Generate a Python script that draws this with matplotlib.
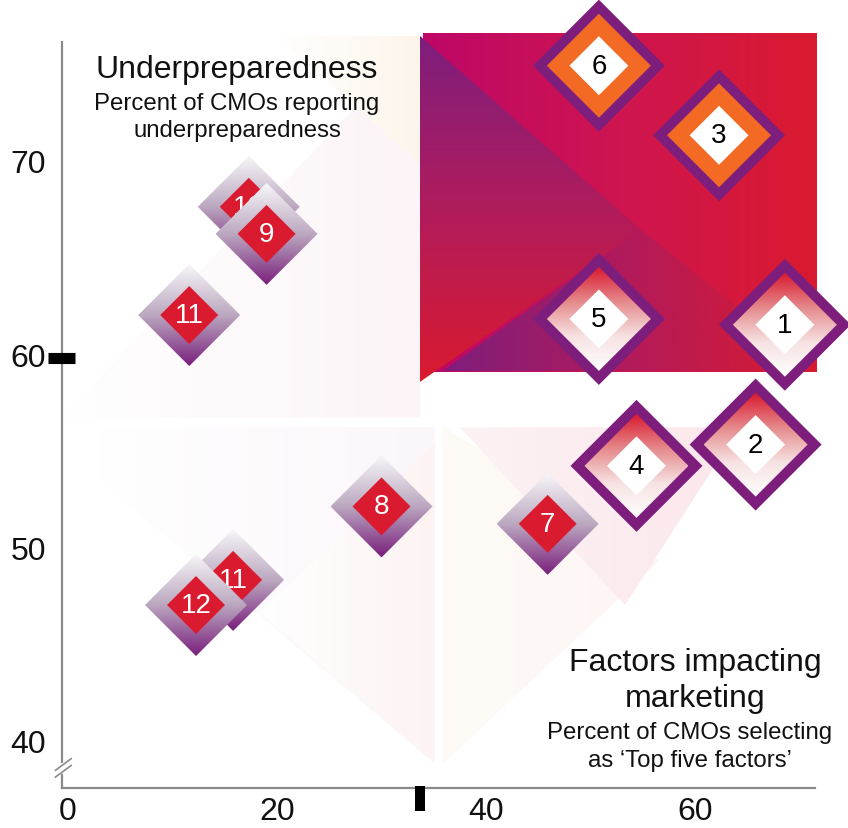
import numpy as np
import matplotlib
matplotlib.use("Agg")
import matplotlib.pyplot as plt
from matplotlib.colors import LinearSegmentedColormap
from matplotlib.patches import Polygon

plt.rcParams["font.family"] = ["Liberation Sans", "DejaVu Sans"]

# Top six factors (framed diamonds) and the rest (small diamonds)
top_labels = ["6", "3", "5", "1", "4", "2"]
top_factors = [50.8, 62.3, 50.8, 68.6, 54.4, 65.8]
top_underprep = [75.1, 71.5, 62.0, 61.7, 54.4, 55.5]
top_orange = [True, True, False, False, False, False]

other_labels = ["10", "9", "11", "8", "7", "11", "12"]
other_factors = [17.3, 19.0, 11.6, 30.0, 45.9, 15.8, 12.25]
other_underprep = [67.8, 66.4, 62.2, 52.3, 51.4, 48.5, 47.2]

avg_factors = 33.7
avg_underprep = 60

x_ticks = [0, 20, 40, 60]
y_ticks = [40, 50, 60, 70]

PURPLE = "#7E1E7C"
ORANGE = "#F26A24"
RED = "#DA1A2F"
MAGENTA = "#BE0767"
AXIS_GREY = "#8A8A8A"

W, H = 848, 829
fig = plt.figure(figsize=(W / 100, H / 100), dpi=100)
ax = fig.add_axes([0, 0, 1, 1])
ax.set_axis_off()
XLIM = (-6.507, 74.64)
YLIM = (35.665, 78.55)
sx = W / (XLIM[1] - XLIM[0])
sy = H / (YLIM[1] - YLIM[0])


def gradient_fill(verts, colors, vertical=True, zorder=1, alpha=1.0):
    poly = Polygon(verts, closed=True, facecolor="none", edgecolor="none")
    ax.add_patch(poly)
    xs, ys = zip(*verts)
    ramp = np.linspace(0, 1, 256)
    if vertical:
        arr = ramp[::-1, None]  # first colour at the top
    else:
        arr = ramp[None, :]  # first colour at the left
    cmap = LinearSegmentedColormap.from_list("g", colors)
    im = ax.imshow(arr, extent=(min(xs), max(xs), min(ys), max(ys)),
                   origin="lower", cmap=cmap, aspect="auto",
                   interpolation="bilinear", zorder=zorder, alpha=alpha)
    im.set_clip_path(poly)


def diamond(x, y, r):
    dx, dy = r / sx, r / sy
    return [(x, y + dy), (x + dx, y), (x, y - dy), (x - dx, y)]


def solid(verts, color, zorder):
    ax.add_patch(Polygon(verts, closed=True, facecolor=color,
                         edgecolor="none", zorder=zorder))


def caption(x_px, y_px, text, size):
    fig.text(x_px / W, 1 - y_px / H, text, ha="center", va="center",
             fontsize=size, color="#111111")


# faint background panels
gradient_fill([(-0.6, 56.9), (33.7, 76.5), (33.7, 56.9)],
              ["#FFFFFF", "#FCF4F7"], vertical=False, zorder=0)
gradient_fill([(20.0, 76.64), (33.7, 76.64), (33.7, 70.0)],
              ["#FFFFFF", "#FDF5EA"], vertical=False, zorder=0)
gradient_fill([(2.9, 56.4), (35.1, 56.4), (35.1, 39.0), (2.9, 53.7)],
              ["#FFFFFF", "#FBF6FA"], vertical=False, zorder=0)
gradient_fill([(35.1, 55.6), (35.1, 39.0), (18.4, 46.8)],
              ["#FFFFFF", "#FDF3F3"], vertical=False, zorder=0)
gradient_fill([(35.9, 56.4), (35.9, 39.0), (56.6, 49.5)],
              ["#FEFBF6", "#FDF5F5"], vertical=False, zorder=0)
gradient_fill([(37.5, 56.4), (64.3, 56.4), (53.3, 47.2)],
              ["#FCF2F4", "#FBE7EB"], vertical=False, zorder=0)

# main quadrant block
gradient_fill([(33.97, 59.26), (71.67, 59.26), (71.67, 76.79), (33.97, 76.79)],
              [MAGENTA, "#CE1550", RED], vertical=False, zorder=1)
gradient_fill([(35.9, 59.31), (54.74, 66.65), (71.67, 59.31)],
              [PURPLE, "#B31A5A", RED], vertical=False, zorder=2)
gradient_fill([(33.68, 76.64), (33.68, 58.74), (54.74, 66.65)],
              ["#7E1E7E", "#B01C5C", RED], vertical=True, zorder=3)

# axes with a broken y axis
ax.plot([-0.57, -0.57], [76.33, 39.1], color=AXIS_GREY, lw=1.6, zorder=5)
ax.plot([-0.57, -0.57], [38.4, 37.73], color=AXIS_GREY, lw=1.6, zorder=5)
ax.plot([-0.57, 71.48], [37.73, 37.73], color=AXIS_GREY, lw=1.6, zorder=5)
for y0 in (38.6, 38.95):
    ax.plot([-1.2, 0.3], [y0 - 0.3, y0 + 0.3], color=AXIS_GREY, lw=1.2, zorder=6)

# average markers
ax.plot([-1.91, 0.67], [avg_underprep, avg_underprep], color="black",
        lw=8, solid_capstyle="butt", zorder=6)
ax.plot([avg_factors, avg_factors], [37.85, 36.54], color="black",
        lw=7.2, solid_capstyle="butt", zorder=6)

for v in x_ticks:
    ax.text(v, 0.0205, str(v), transform=ax.get_xaxis_transform(),
            ha="center", va="center", fontsize=23, color="#111111")
for v in y_ticks:
    ax.text(0.054, v, str(v), transform=ax.get_yaxis_transform(),
            ha="right", va="center", fontsize=23, color="#111111")

# small diamonds
z = 10
for lab, x, y in zip(other_labels, other_factors, other_underprep):
    gradient_fill(diamond(x, y, 51), ["#F8F7F9", "#BBA8C0", "#7A1F7C"],
                  vertical=True, zorder=z)
    solid(diamond(x, y, 29), RED, z + 0.1)
    ax.text(x, y, lab, ha="center", va="center", fontsize=20,
            color="white", zorder=z + 0.2)
    z += 1

# framed diamonds for the top six
for lab, x, y, orange in zip(top_labels, top_factors, top_underprep, top_orange):
    solid(diamond(x, y, 66), PURPLE, z)
    if orange:
        solid(diamond(x, y, 52), ORANGE, z + 0.1)
    else:
        gradient_fill(diamond(x, y, 52),
                      [RED, "#E58A8C", "#F7E2E2", "#FFFFFF"],
                      vertical=True, zorder=z + 0.1)
    solid(diamond(x, y, 29.5), "white", z + 0.2)
    ax.text(x, y, lab, ha="center", va="center", fontsize=20,
            color="black", zorder=z + 0.3)
    z += 1

# quadrant captions
caption(237, 70, "Underpreparedness", 23)
caption(237, 104, "Percent of CMOs reporting", 17.3)
caption(237, 131, "underpreparedness", 17.3)
caption(695, 663, "Factors impacting", 23)
caption(695, 699, "marketing", 23)
caption(690, 733, "Percent of CMOs selecting", 17.3)
caption(690, 761, "as \u2018Top five factors\u2019", 17.3)

ax.set_xlim(*XLIM)
ax.set_ylim(*YLIM)
fig.savefig("out.png", dpi=100)
